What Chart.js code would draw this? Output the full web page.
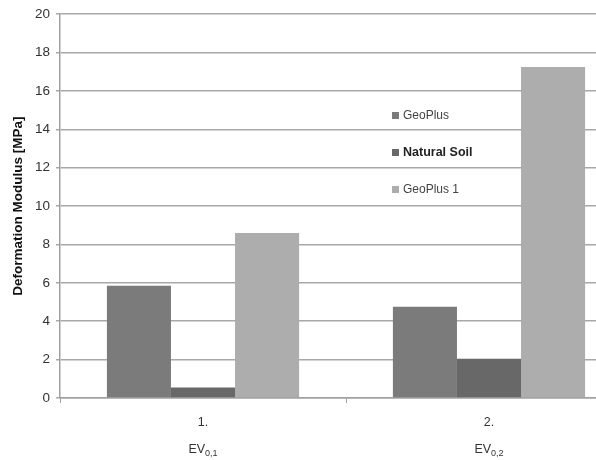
<!DOCTYPE html>
<html>
<head>
<meta charset="utf-8">
<script src="https://cdn.jsdelivr.net/npm/chart.js@4/dist/chart.umd.min.js"></script>
<style>
    body { margin: 0; background: #fff; overflow: hidden; }
    #wrap { position: relative; width: 640px; height: 460px; }
    #legend { position: absolute; left: 392px; top: 108px; font-family: Arial, "Liberation Sans", sans-serif; font-size: 12px; color: #444; }
    #legend .item { height: 37px; display: flex; align-items: flex-start; }
    #legend .box { width: 7px; height: 7px; margin: 4px 4px 0 0; }
    #legend .bold { font-weight: bold; font-size: 12.5px; color: #222; }
</style>
</head>
<body>
<div id="wrap">
    <canvas id="chart" width="640" height="460"></canvas>
    <div id="legend"></div>
</div>
<script>
// Chart data
const categories = ['1.', '2.'];
const subLabels = ['0,1', '0,2'];
const geoPlus = [5.85, 4.75];
const naturalSoil = [0.55, 2.05];
const geoPlus1 = [8.6, 17.25];
const yTicks = [0, 2, 4, 6, 8, 10, 12, 14, 16, 18, 20];

const series = [
    { label: 'GeoPlus', data: geoPlus, color: '#7b7b7b', bold: false },
    { label: 'Natural Soil', data: naturalSoil, color: '#686868', bold: true },
    { label: 'GeoPlus 1', data: geoPlus1, color: '#adadad', bold: false }
];

// draws the EV labels with subscripts under the category ticks
const evLabels = {
    id: 'evLabels',
    afterDraw(chart) {
        const ctx = chart.ctx;
        const xScale = chart.scales.x;
        ctx.save();
        ctx.fillStyle = '#333';
        ctx.textBaseline = 'alphabetic';
        categories.forEach((c, i) => {
            const x = xScale.getPixelForValue(i);
            ctx.font = '12.5px Arial, "Liberation Sans", sans-serif';
            const w1 = ctx.measureText('EV').width;
            ctx.font = '9px Arial, "Liberation Sans", sans-serif';
            const w2 = ctx.measureText(subLabels[i]).width;
            const start = x - (w1 + w2) / 2;
            ctx.font = '12.5px Arial, "Liberation Sans", sans-serif';
            ctx.fillText('EV', start, 453);
            ctx.font = '9px Arial, "Liberation Sans", sans-serif';
            ctx.fillText(subLabels[i], start + w1, 456);
        });
        ctx.restore();
    }
};

const ctx = document.getElementById('chart').getContext('2d');
new Chart(ctx, {
    type: 'bar',
    data: {
        labels: categories,
        datasets: series.map(s => ({
            label: s.label,
            data: s.data,
            backgroundColor: s.color,
            borderWidth: 0,
            categoryPercentage: 0.672,
            barPercentage: 1
        }))
    },
    options: {
        responsive: false,
        animation: false,
        layout: { padding: { top: 12, right: 8, left: 10, bottom: 0 } },
        plugins: {
            legend: { display: false },
            tooltip: { enabled: false }
        },
        scales: {
            x: {
                grid: {
                    offset: true,
                    drawOnChartArea: false,
                    tickLength: 5,
                    color: '#a0a0a0'
                },
                border: { color: '#a0a0a0', width: 1.5 },
                ticks: {
                    color: '#333',
                    font: { family: 'Arial, "Liberation Sans", sans-serif', size: 12.5 },
                    padding: 12
                },
                afterFit(scale) { scale.height = 62; }
            },
            y: {
                min: 0,
                max: 20,
                afterBuildTicks(scale) { scale.ticks = yTicks.map(v => ({ value: v })); },
                grid: { color: '#a8a8a8', lineWidth: 1.5, tickLength: 4 },
                border: { color: '#a0a0a0', width: 1.5 },
                ticks: {
                    color: '#333',
                    font: { family: 'Arial, "Liberation Sans", sans-serif', size: 13.5 },
                    padding: 6
                },
                title: {
                    display: true,
                    text: 'Deformation Modulus [MPa]',
                    color: '#111',
                    font: { family: 'Arial, "Liberation Sans", sans-serif', size: 13.5, weight: 'bold' },
                    padding: 0
                },
                afterFit(scale) { scale.width = 50; }
            }
        }
    },
    plugins: [evLabels]
});

// legend inside the plot
const legend = document.getElementById('legend');
series.forEach(s => {
    const item = document.createElement('div');
    item.className = 'item';
    item.innerHTML = `<div class="box" style="background:${s.color}"></div><span class="${s.bold ? 'bold' : ''}">${s.label}</span>`;
    legend.appendChild(item);
});
</script>
</body>
</html>
